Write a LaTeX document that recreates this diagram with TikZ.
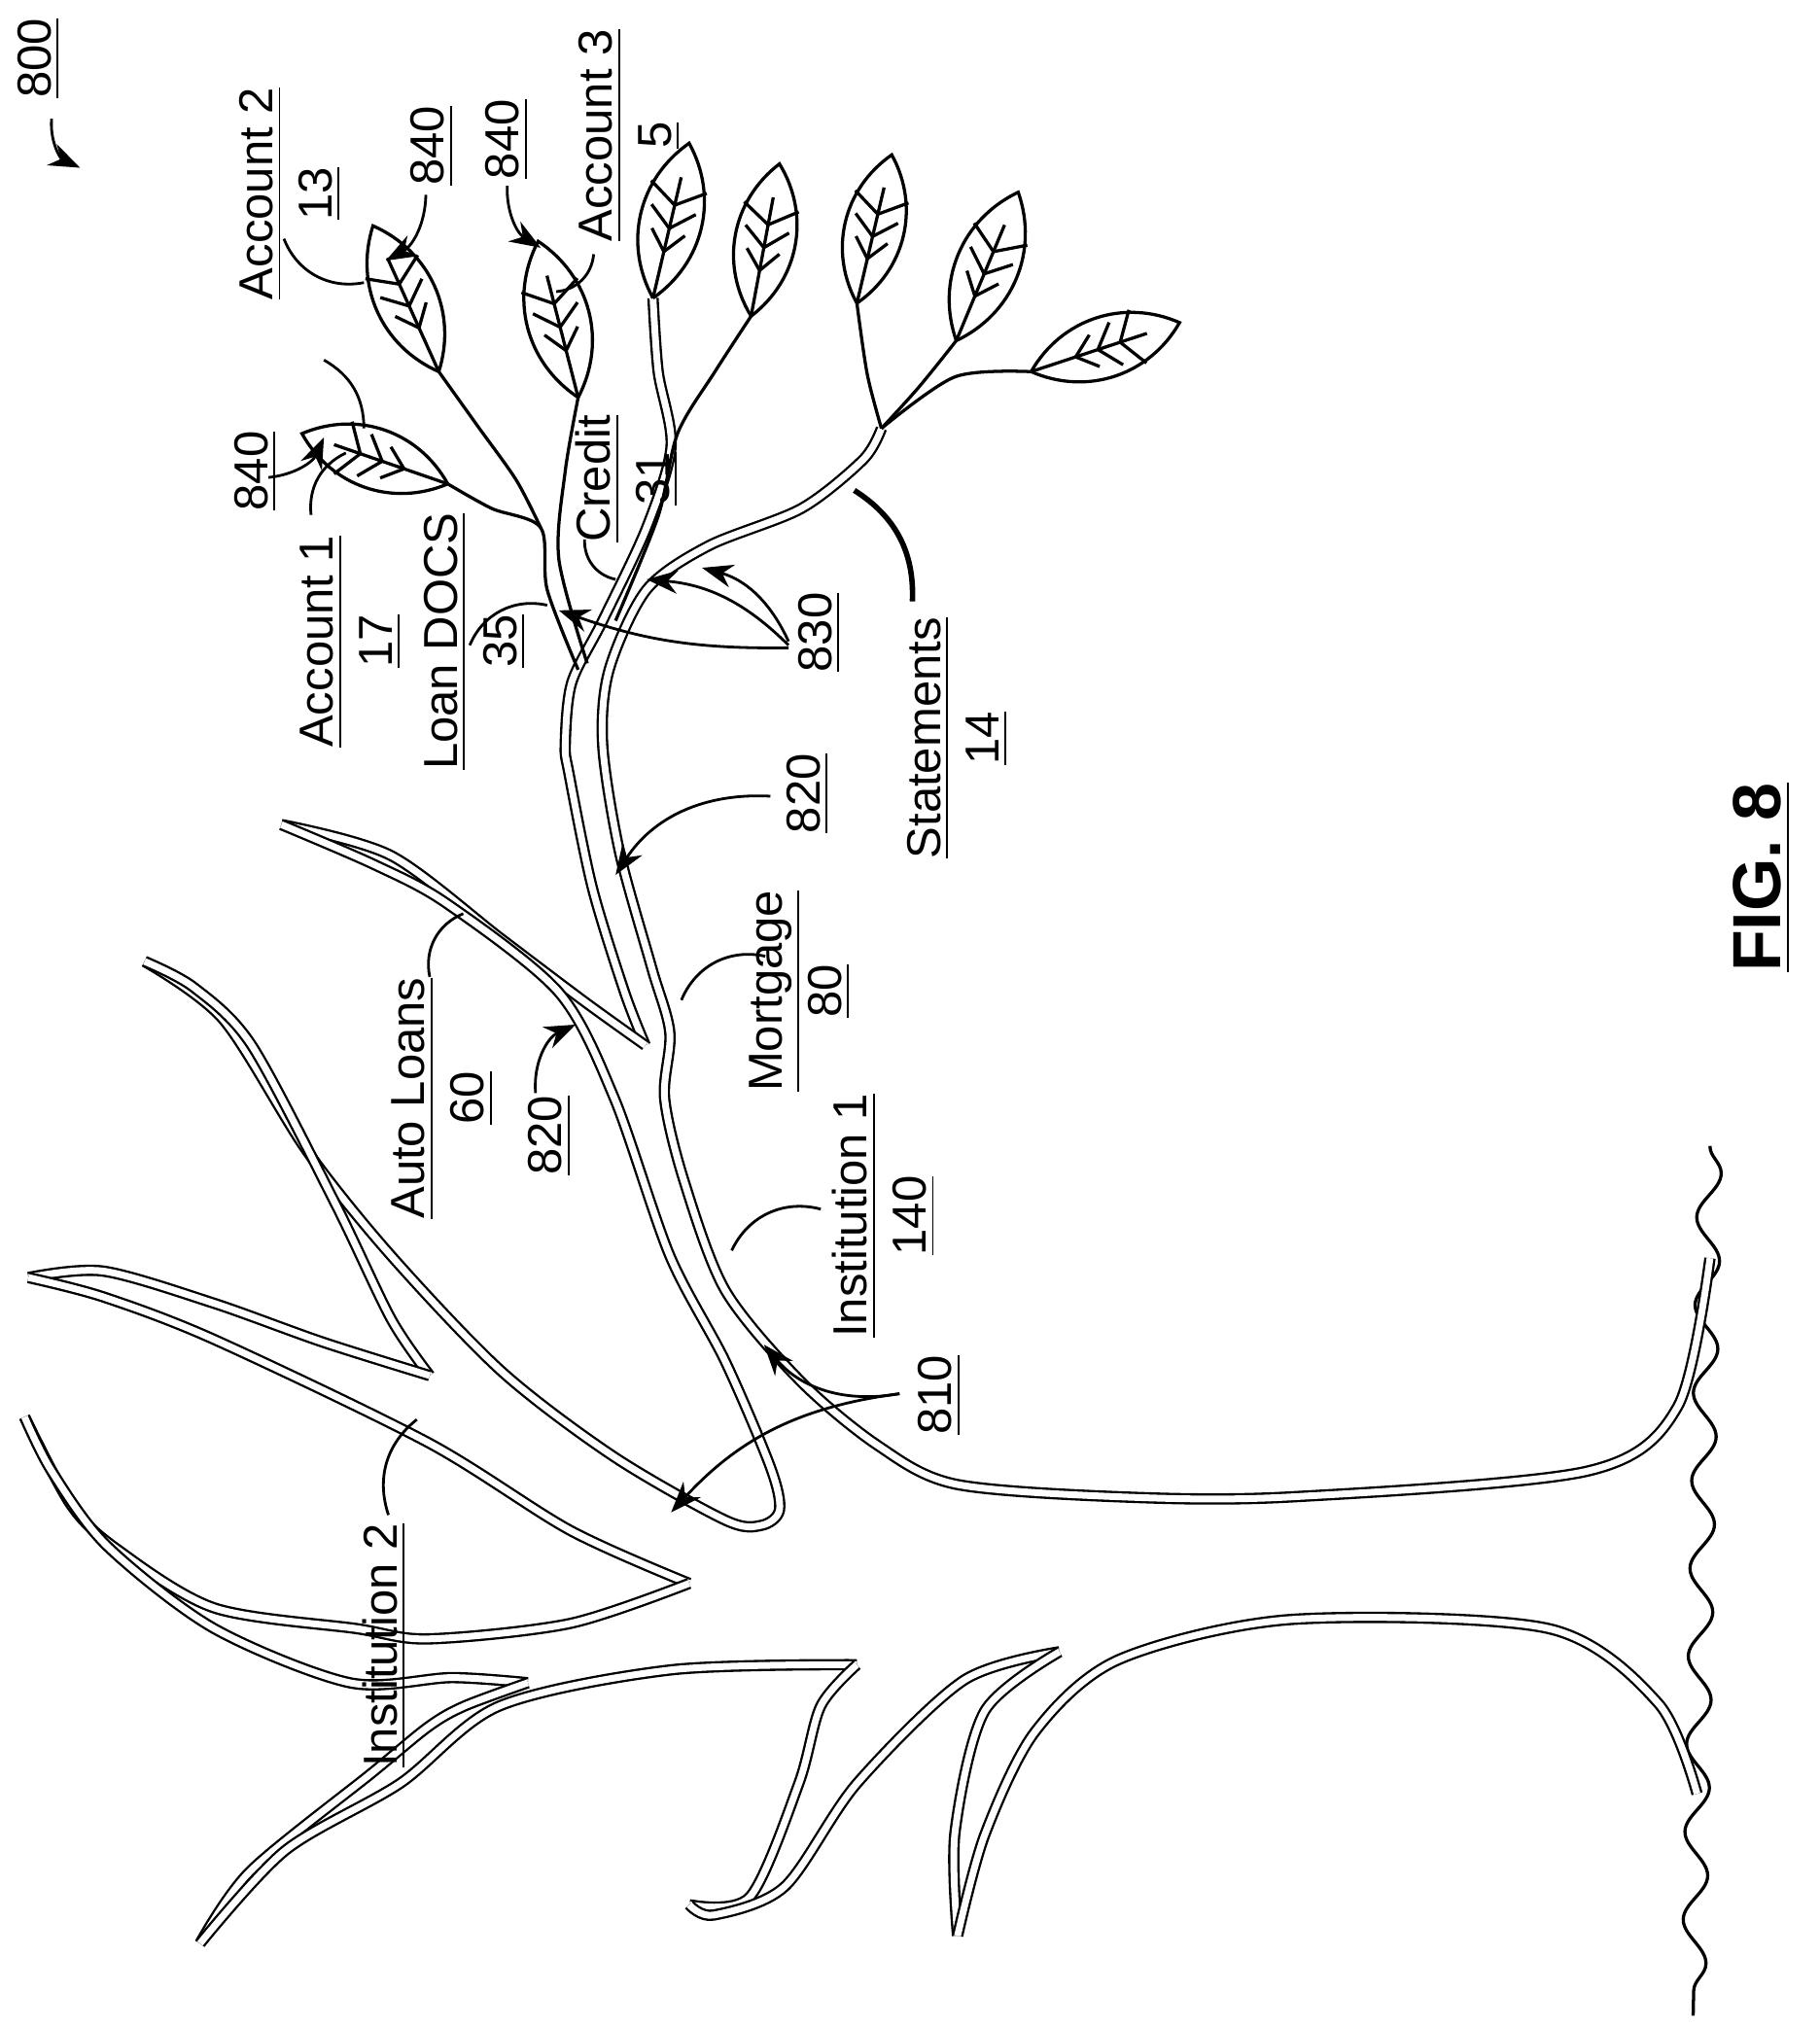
\documentclass[tikz,border=0pt]{standalone}
\usepackage{fontspec}
\setmainfont{Liberation Sans}
\usetikzlibrary{calc,arrows.meta,decorations.pathmorphing}

% one leaf: base, tip
\newcommand{\leaf}[2]{%
  \draw[twig] (#1) to[bend left=42] (#2) to[bend left=42] (#1);
  \draw[twig] (#1) -- ($(#1)!0.78!(#2)$);
  \foreach \t in {0.3,0.45,0.6} {
    \draw[twig] ($(#1)!\t!(#2)$) -- ($(#1)!\t+0.14!14:(#2)$);
    \draw[twig] ($(#1)!\t!(#2)$) -- ($(#1)!\t+0.14!-14:(#2)$);
  }}

\tikzset{
  limb/.style={double=white, double distance=1.5pt, line width=0.5pt},
  twig/.style={line width=0.7pt},
  lead/.style={line width=0.6pt},
  ptr/.style={lead, -{Stealth[length=2.4mm, width=1.8mm]}},
  lbl/.style={rotate=90, align=center, font=\fontsize{10.5}{13}\selectfont, inner sep=1pt}
}

\begin{document}
\begin{tikzpicture}[x=0.01cm, y=-0.01cm]
\useasboundingbox (0,0) rectangle (1410,1570);

% ground
\draw[twig, decorate, decoration={snake, amplitude=2.6pt, segment length=0.68cm}] (1325,888) -- (1312,1562);

% trunk and Institution 1 limb
\draw[limb] plot[smooth] coordinates {(1325,975) (1300,1090) (1230,1140) (1000,1160) (870,1160) (740,1150) (680,1120) (620,1070) (562,1000) (530,915) (515,851) (519,800) (505,750) (480,660) (467,577) (472,519) (501,457) (549,423) (621,394) (669,356) (683,332)};
\draw[limb] plot[smooth] coordinates {(500,810) (484,769) (459,688) (441,600) (438,577) (443,529) (467,481) (501,409) (520,346) (510,288) (506,231)};
% auto loans and next limb
\draw[limb] plot[smooth] coordinates {(500,810) (454,777) (389,728) (303,663) (218,639)};
\draw[limb] plot[smooth] coordinates {(218,639) (290,670) (346,700) (433,769) (476,851) (519,973) (562,1055) (597,1137) (604,1170) (590,1182) (562,1178) (476,1129) (389,1063) (303,973) (238,892) (173,790) (112,745)};
\draw[limb] plot[smooth] coordinates {(112,745) (150,765) (195,810) (260,933) (303,1022) (333,1066)};
% Institution 2 limbs
\draw[limb] plot[smooth] coordinates {(333,1066) (250,1040) (166,1010) (80,985) (22,990)};
\draw[limb] plot[smooth] coordinates {(22,990) (80,1005) (166,1038) (332,1118) (442,1186) (534,1227)};
\draw[limb] plot[smooth] coordinates {(534,1227) (442,1258) (332,1270) (276,1262) (166,1246) (90,1200) (55,1166) (19,1098)};
\draw[limb] plot[smooth] coordinates {(19,1098) (40,1140) (83,1198) (166,1262) (271,1304) (350,1300) (409,1304)};
\draw[limb] plot[smooth] coordinates {(409,1304) (360,1322) (332,1338) (288,1374) (194,1450) (155,1506)};
\draw[limb] plot[smooth] coordinates {(155,1506) (221,1434) (310,1382) (387,1322) (520,1294) (664,1290)};
\draw[limb] plot[smooth] coordinates {(664,1290) (636,1322) (619,1382) (581,1470) (534,1476)};
\draw[limb] plot[smooth] coordinates {(534,1476) (553,1484) (608,1462) (664,1382) (747,1302) (821,1280)};
\draw[limb] plot[smooth] coordinates {(821,1280) (763,1326) (740,1420) (742,1500)};
\draw[limb] plot[smooth] coordinates {(742,1500) (763,1422) (802,1342) (867,1286) (1000,1255) (1200,1262) (1285,1320) (1315,1390)};

% twigs
\draw[twig] plot[smooth] coordinates {(448,519) (424,457) (419,409) (381,394) (347,375)};
\draw[twig] plot[smooth] coordinates {(419,409) (400,372) (370,330) (340,288)};
\draw[twig] plot[smooth] coordinates {(455,514) (433,433) (438,365) (448,308)};
\draw[twig] plot[smooth] coordinates {(477,481) (510,400) (525,336) (554,288) (582,245)};
\draw[twig] plot[smooth] coordinates {(683,332) (672,290) (664,235)};
\draw[twig] plot[smooth] coordinates {(683,332) (712,300) (741,264)};
\draw[twig] plot[smooth] coordinates {(683,332) (740,292) (799,288)};

% leaves
\coordinate (b1) at (347,375); \coordinate (t1) at (234,336);
\coordinate (b2) at (340,288); \coordinate (t2) at (289,175);
\coordinate (b3) at (448,308); \coordinate (t3) at (417,187);
\coordinate (b4) at (506,231); \coordinate (t4) at (534,111);
\coordinate (b5) at (582,245); \coordinate (t5) at (604,127);
\coordinate (b6) at (664,235); \coordinate (t6) at (691,120);
\coordinate (b7) at (741,264); \coordinate (t7) at (789,149);
\coordinate (b8) at (799,288); \coordinate (t8) at (914,250);
\foreach \i in {1,...,8} { \leaf{b\i}{t\i} }

% labels
\node[lbl] (n800) at (30,45) {\underline{800}};
\node[lbl] (acc2) at (225,150) {\underline{Account 2}\\\underline{13}};
\node[lbl] (acc3) at (488,105) {\underline{Account 3}\\\underline{5}};
\node[lbl] (l840a) at (335,113) {\underline{840}};
\node[lbl] (l840b) at (393,108) {\underline{840}};
\node[lbl] (l840c) at (198,365) {\underline{840}};
\node[lbl] (acc1) at (272,497) {\underline{Account 1}\\\underline{17}};
\node[lbl] (loan) at (368,497) {\underline{Loan DOCS}\\\underline{35}};
\node[lbl] (credit) at (486,371) {\underline{Credit}\\\underline{31}};
\node[lbl] (l830) at (635,490) {\underline{830}};
\node[lbl] (stat) at (742,572) {\underline{Statements}\\\underline{14}};
\node[lbl] (l820a) at (626,615) {\underline{820}};
\node[lbl] (mort) at (620,768) {\underline{Mortgage}\\\underline{80}};
\node[lbl] (autol) at (343,851) {\underline{Auto Loans}\\\underline{60}};
\node[lbl] (l820b) at (426,880) {\underline{820}};
\node[lbl] (inst1) at (685,942) {\underline{Institution 1}\\\underline{140}};
\node[lbl] (l810) at (728,1081) {\underline{810}};
\node[lbl] (inst2) at (298,1275) {\underline{Institution 2}};
\node[lbl, font=\bfseries\fontsize{15}{18}\selectfont] (fig) at (1365,680) {\underline{FIG. 8}};

% leader lines
\draw[ptr] (40,92) to[bend right=35] (62,130);
\draw[lead] (220,185) to[bend right=40] (282,219);
\draw[ptr] (330,151) to[bend left=30] (299,202);
\draw[ptr] (393,144) to[bend right=30] (419,192);
\draw[lead] (460,197) to[bend left=40] (431,226);
\draw[ptr] (208,370) to[bend right=30] (251,339);
\draw[lead] (241,399) to[bend left=35] (268,351);
\draw[lead] (251,279) to[bend left=30] (282,332);
\draw[lead] (364,500) to[bend left=40] (424,469);
\draw[lead] (453,418) to[bend right=40] (477,449);
\draw[ptr] (611,502) to[bend left=10] (433,473);
\draw[ptr] (611,500) to[bend right=20] (501,449);
\draw[ptr] (611,497) to[bend right=25] (544,440);
\draw[line width=1.2pt] (707,466) to[bend right=30] (662,380);
\draw[ptr] (597,617) to[bend right=30] (477,678);
\draw[lead] (593,741) to[bend right=40] (528,775);
\draw[lead] (333,757) to[bend left=40] (359,708);
\draw[ptr] (415,847) to[bend left=35] (446,794);
\draw[lead] (636,937) to[bend right=40] (567,969);
\draw[ptr] (697,1080) to[bend left=30] (592,1042);
\draw[ptr] (697,1080) to[bend right=20] (520,1172);
\draw[lead] (301,1174) to[bend left=35] (323,1100);
\end{tikzpicture}
\end{document}
